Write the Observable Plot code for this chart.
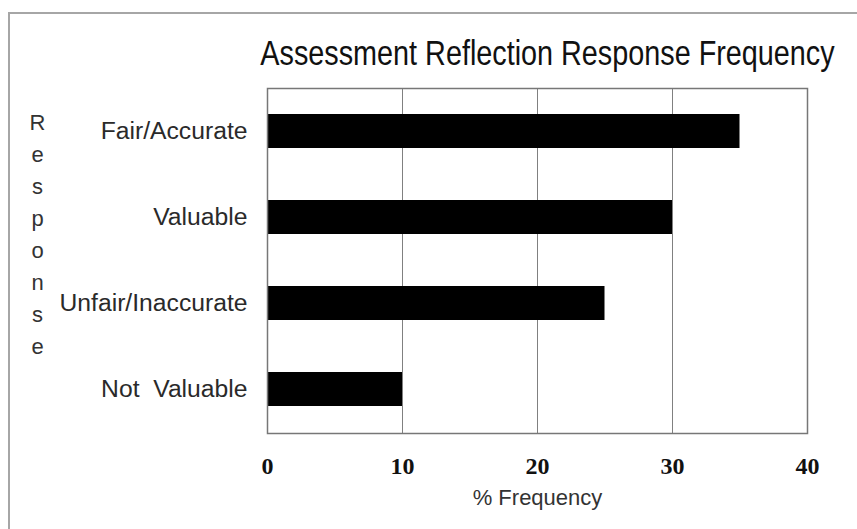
<!DOCTYPE html>
<html>
<head>
<meta charset="utf-8">
<script src="https://cdn.jsdelivr.net/npm/d3@7"></script>
<script src="https://cdn.jsdelivr.net/npm/@observablehq/plot@0.6"></script>
<style>
  html, body { margin: 0; padding: 0; background: #fff; overflow: hidden; }
  #wrap { position: relative; width: 857px; height: 529px; overflow: hidden; }
  #border { position: absolute; left: 8px; top: 12px; width: 900px; height: 600px;
            border-left: 2px solid #a6a6a6; border-top: 2px solid #a6a6a6; box-sizing: border-box; }
  #chart { position: absolute; left: 0; top: 0; }
  #chart svg text { white-space: pre; }
</style>
</head>
<body>
<div id="wrap">
  <div id="border"></div>
  <div id="chart"></div>
</div>
<script>
const title = "Assessment Reflection Response Frequency";
const responses = ["Fair/Accurate", "Valuable", "Unfair/Inaccurate", "Not  Valuable"];
const frequencies = [35, 30, 25, 10];
const xTicks = [0, 10, 20, 30, 40];
const gridTicks = [10, 20, 30];
const xLabel = "% Frequency";
const yLabel = "Response";

const data = responses.map((r, i) => ({response: r, value: frequencies[i]}));

const plot = Plot.plot({
  width: 857,
  height: 529,
  marginLeft: 267,
  marginRight: 50,
  marginTop: 88,
  marginBottom: 96,
  style: {fontFamily: "'Liberation Sans', Arial, sans-serif", background: "transparent", overflow: "visible"},
  x: {domain: [0, 40]},
  y: {domain: responses, paddingInner: 0.6, paddingOuter: 0.3},
  marks: [
    Plot.gridX(gridTicks, {stroke: "#808080", strokeOpacity: 1, strokeWidth: 1}),
    Plot.barX(data, {x: "value", y: "response", fill: "#000"}),
    Plot.frame({stroke: "#777", strokeWidth: 1.5}),
    Plot.axisY({tickSize: 0, tickPadding: 20, fontSize: 24.7, fill: "#2a2a2a", label: null}),
    Plot.axisX(xTicks, {tickSize: 0, tickPadding: 23, fontSize: 24, fontWeight: "bold",
      fontFamily: "'Liberation Serif', 'Times New Roman', serif", fill: "#111", label: null, tickFormat: d => String(d)}),
    Plot.text([xLabel], {frameAnchor: "bottom", dy: 64, fontSize: 22, fill: "#333", lineAnchor: "middle"}),
    Plot.text([yLabel.split("").join("\n")], {frameAnchor: "left", dx: -230, dy: -29, fontSize: 22,
      lineHeight: 1.455, fill: "#333", textAnchor: "middle", lineAnchor: "middle"}),
    Plot.text([title], {frameAnchor: "top", dx: 10, dy: -35, fontSize: 28.8, fill: "#111",
      textAnchor: "middle", lineAnchor: "middle"})
  ]
});

d3.select(plot).selectAll("text").filter(function() { return this.textContent === title; })
  .attr("transform", function() { return (this.getAttribute("transform") || "") + " scale(1,1.25)"; });

document.getElementById("chart").appendChild(plot);
</script>
</body>
</html>
